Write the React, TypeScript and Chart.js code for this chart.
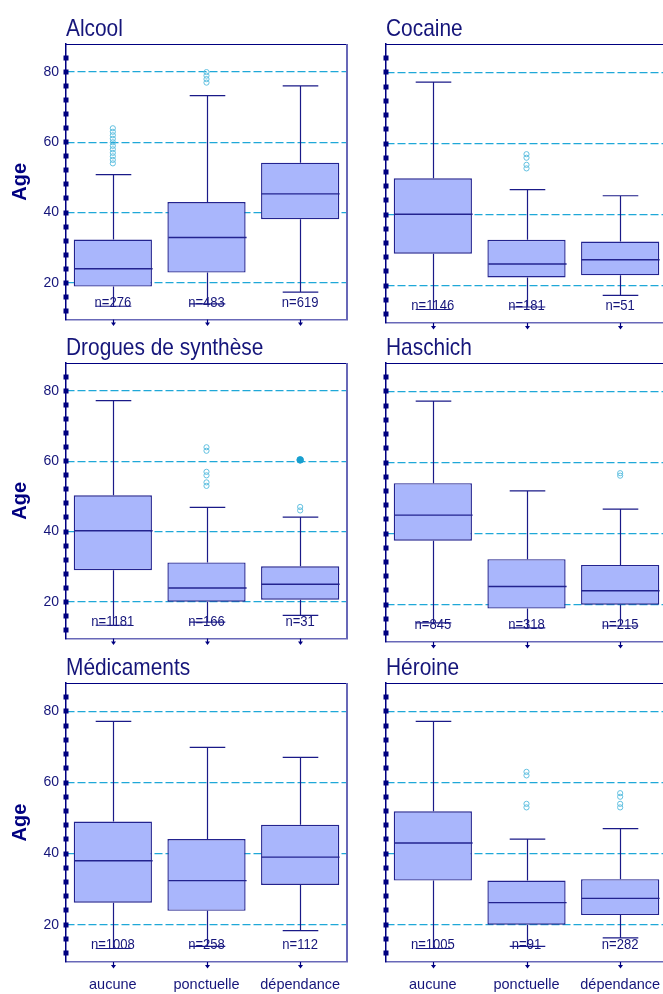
import React, { useEffect, useRef } from 'react';
import { Chart, registerables } from 'chart.js';

Chart.register(...registerables);

// ---------- data ----------
const CATEGORIES = ['aucune', 'ponctuelle', 'dépendance'];
const PANEL_TITLES = ['Alcool', 'Cocaine', 'Drogues de synthèse', 'Haschich', 'Médicaments', 'Héroine'];
const Y_AXIS_TITLE = 'Age';
const Y_MIN = 9.5;
const Y_MAX = 88;
const MARKER_TICKS = [12, 16, 20, 24, 28, 32, 36, 40, 44, 48, 52, 56, 60, 64, 68, 72, 76, 80, 84];
const LABELED_TICKS = [20, 40, 60, 80];

const WHISKER_LOW = [
  [13.3, 14.0, 17.3],
  [13.3, 14.0, 17.3],
  [13.3, 14.2, 16.1],
  [14.9, 13.5, 14.0],
  [13.3, 13.9, 18.3],
  [13.3, 13.9, 16.3],
];
const Q1 = [
  [18.9, 22.9, 38.1],
  [29.0, 22.3, 22.9],
  [29.0, 20.0, 20.6],
  [38.0, 18.9, 20.0],
  [26.2, 23.9, 31.2],
  [32.4, 20.0, 22.7],
];
const MEDIAN = [
  [24.0, 32.9, 45.3],
  [40.1, 26.1, 27.3],
  [40.2, 23.9, 25.0],
  [45.2, 25.1, 23.9],
  [38.0, 32.4, 39.0],
  [43.0, 26.2, 27.4],
];
const Q3 = [
  [32.3, 43.0, 54.2],
  [50.2, 32.9, 32.4],
  [50.3, 31.2, 30.1],
  [54.2, 32.8, 31.2],
  [49.0, 44.1, 48.1],
  [51.9, 32.4, 32.8],
];
const WHISKER_HIGH = [
  [50.8, 73.3, 76.1],
  [77.3, 47.0, 45.3],
  [77.3, 46.9, 44.1],
  [77.3, 52.0, 46.9],
  [77.2, 69.9, 67.1],
  [77.2, 44.1, 47.0],
];
const N_COUNTS = [
  [276, 483, 619],
  [1146, 181, 51],
  [1181, 166, 31],
  [845, 318, 215],
  [1008, 258, 112],
  [1005, 91, 282],
];
const OUTLIERS = [
  [[54, 55, 56, 57, 58, 59, 60, 61, 62, 63, 64], [77, 78, 79, 80], []],
  [[], [53, 54, 56, 57], []],
  [[], [53, 54, 56, 57, 63, 64], [46, 47]],
  [[], [], [56.3, 57]],
  [[], [], []],
  [[], [53, 54, 62, 63], [53, 54, 56, 57]],
];
const EXTREMES = [
  [[], [], []],
  [[], [], []],
  [[], [], [60.4]],
  [[], [], []],
  [[], [], []],
  [[], [], []],
];

// ---------- style ----------
const FONT = '"Liberation Sans", Arial, sans-serif';
const NAVY = '#000080';
const TEXT = '#15157a';
const FRAME = '#6868b8';
const GRID = '#1fa8d8';
const BOX_FILL = '#a9b6fc';
const BOX_LINE = '#23238f';
const WHISKER = '#1a1a88';
const OUTLIER = '#62c0e0';
const EXTREME = '#189fcf';

const COL_LEFT = [0, 320];
const ROW_TOP = [0, 319, 639];
const ROW_H = [335, 335, 355];
const CANVAS_W = 360;
const AREA_TOP = 44;
const AREA_BOTTOM = 323;
const Y_AXIS_W = 66;

function drawScaledText(ctx: CanvasRenderingContext2D, text: string, x: number, y: number, sx: number) {
  ctx.save();
  ctx.translate(x, y);
  ctx.scale(sx, 1);
  ctx.fillText(text, 0, 0);
  ctx.restore();
}

function Panel({ index }: { index: number }) {
  const ref = useRef<HTMLCanvasElement | null>(null);
  const col = index % 2;
  const row = Math.floor(index / 2);
  const H = ROW_H[row];
  const showY = col === 0;
  const showX = row === 2;

  useEffect(() => {
    if (!ref.current) return;
    const p = index;

    const decor = {
      id: 'boxDecor',
      beforeDatasetsDraw(chart: any) {
        const { ctx, chartArea: a, scales } = chart;
        const x = scales.x;
        ctx.save();
        ctx.fillStyle = TEXT;
        ctx.font = `15px ${FONT}`;
        ctx.textAlign = 'center';
        ctx.textBaseline = 'alphabetic';
        CATEGORIES.forEach((_, i) => {
          drawScaledText(ctx, 'n=' + N_COUNTS[p][i], x.getPixelForValue(i), a.bottom - 13, 0.87);
        });
        ctx.restore();
      },
      afterDatasetsDraw(chart: any) {
        const { ctx, scales } = chart;
        const x = scales.x;
        const y = scales.y;
        const meta = chart.getDatasetMeta(0);
        const catW = x.getPixelForValue(1) - x.getPixelForValue(0);
        const capHalf = catW * 0.19;
        ctx.save();
        CATEGORIES.forEach((_, i) => {
          const bar = meta.data[i];
          const cx = Math.round(bar.x) + 0.5;
          const half = bar.width / 2;
          const yHi = y.getPixelForValue(WHISKER_HIGH[p][i]);
          const yLo = y.getPixelForValue(WHISKER_LOW[p][i]);
          const yQ1 = y.getPixelForValue(Q1[p][i]);
          const yQ3 = y.getPixelForValue(Q3[p][i]);
          const yMed = y.getPixelForValue(MEDIAN[p][i]);
          ctx.strokeStyle = WHISKER;
          ctx.lineWidth = 1.2;
          ctx.beginPath();
          ctx.moveTo(cx, yQ3);
          ctx.lineTo(cx, yHi);
          ctx.moveTo(cx - capHalf, yHi);
          ctx.lineTo(cx + capHalf, yHi);
          ctx.moveTo(cx, yQ1);
          ctx.lineTo(cx, yLo);
          ctx.moveTo(cx - capHalf, yLo);
          ctx.lineTo(cx + capHalf, yLo);
          ctx.stroke();
          ctx.strokeStyle = BOX_LINE;
          ctx.lineWidth = 1.4;
          ctx.beginPath();
          ctx.moveTo(cx - half, yMed);
          ctx.lineTo(cx + half, yMed);
          ctx.stroke();
        });
        ctx.restore();
      },
      afterDraw(chart: any) {
        const { ctx, chartArea: a, scales } = chart;
        const x = scales.x;
        const y = scales.y;
        ctx.save();
        // top + right frame
        ctx.strokeStyle = NAVY;
        ctx.lineWidth = 1.2;
        ctx.beginPath();
        ctx.moveTo(a.left, a.top + 0.5);
        ctx.lineTo(a.right + 1, a.top + 0.5);
        ctx.stroke();
        ctx.strokeStyle = FRAME;
        ctx.lineWidth = 2;
        ctx.beginPath();
        ctx.moveTo(a.right, a.top);
        ctx.lineTo(a.right, a.bottom);
        ctx.stroke();
        // square markers on the left axis
        ctx.fillStyle = NAVY;
        y.ticks.forEach((t: any) => {
          const py = y.getPixelForValue(t.value);
          ctx.fillRect(a.left - 2.5, Math.round(py) - 2.5, 5, 5);
        });
        // arrows below categories
        ctx.fillStyle = NAVY;
        ctx.strokeStyle = NAVY;
        ctx.lineWidth = 1.2;
        CATEGORIES.forEach((_, i) => {
          const cx = Math.round(x.getPixelForValue(i)) + 0.5;
          const b = a.bottom;
          ctx.beginPath();
          ctx.moveTo(cx, b);
          ctx.lineTo(cx, b + 5);
          ctx.stroke();
          ctx.beginPath();
          ctx.moveTo(cx - 2.5, b + 3);
          ctx.lineTo(cx + 2.5, b + 3);
          ctx.lineTo(cx, b + 6.5);
          ctx.closePath();
          ctx.fill();
        });
        // panel title
        ctx.fillStyle = TEXT;
        ctx.font = `24px ${FONT}`;
        ctx.textAlign = 'left';
        ctx.textBaseline = 'alphabetic';
        drawScaledText(ctx, PANEL_TITLES[p], a.left, a.top - 8, 0.87);
        ctx.restore();
      },
    };

    const outlierPts: any[] = [];
    const extremePts: any[] = [];
    CATEGORIES.forEach((c, i) => {
      OUTLIERS[p][i].forEach((v) => outlierPts.push({ x: c, y: v }));
      EXTREMES[p][i].forEach((v) => extremePts.push({ x: c, y: v }));
    });

    const chart = new Chart(ref.current, {
      type: 'bar',
      data: {
        labels: CATEGORIES,
        datasets: [
          {
            type: 'bar',
            data: CATEGORIES.map((_, i) => [Q1[p][i], Q3[p][i]]),
            backgroundColor: BOX_FILL,
            borderColor: BOX_LINE,
            borderWidth: 1.4,
            borderSkipped: false,
            barPercentage: 0.835,
            categoryPercentage: 1,
          } as any,
          {
            type: 'scatter',
            data: outlierPts,
            pointStyle: 'circle',
            pointRadius: 2.6,
            borderWidth: 1,
            borderColor: OUTLIER,
            backgroundColor: 'rgba(0,0,0,0)',
          } as any,
          {
            type: 'scatter',
            data: extremePts,
            pointStyle: 'circle',
            pointRadius: 3.3,
            borderWidth: 1,
            borderColor: EXTREME,
            backgroundColor: EXTREME,
          } as any,
        ],
      },
      options: {
        responsive: false,
        animation: false,
        devicePixelRatio: 1,
        layout: { padding: { top: AREA_TOP, right: CANVAS_W - 347, left: 0, bottom: 0 } },
        plugins: {
          legend: { display: false },
          tooltip: { enabled: false },
          title: { display: false },
        },
        scales: {
          x: {
            type: 'category',
            offset: true,
            grid: { display: true, drawOnChartArea: false, drawTicks: false, offset: false },
            border: { display: true, color: FRAME, width: 1.6 },
            ticks: {
              display: showX,
              color: TEXT,
              font: { family: FONT, size: 14.5 },
              padding: 14,
              maxRotation: 0,
              autoSkip: false,
            },
            afterFit: (s: any) => {
              s.height = H - AREA_BOTTOM;
            },
          },
          y: {
            type: 'linear',
            min: Y_MIN,
            max: Y_MAX,
            afterBuildTicks: (s: any) => {
              s.ticks = MARKER_TICKS.map((v) => ({ value: v }));
            },
            grid: {
              color: (c: any) => (c.tick && LABELED_TICKS.includes(c.tick.value) ? GRID : 'rgba(0,0,0,0)'),
              lineWidth: 1.2,
              drawTicks: false,
              borderDash: [8, 3],
            } as any,
            border: { display: true, color: NAVY, width: 1.5, dash: [8, 3] },
            ticks: {
              display: showY,
              color: TEXT,
              font: { family: FONT, size: 14 },
              padding: 7,
              autoSkip: false,
              callback: (v: any) => (LABELED_TICKS.includes(Number(v)) ? String(v) : ''),
            },
            title: {
              display: showY,
              text: Y_AXIS_TITLE,
              color: NAVY,
              font: { family: FONT, size: 20, weight: 'bold' },
              padding: { top: 8, bottom: 0 },
            },
            afterFit: (s: any) => {
              s.width = Y_AXIS_W;
            },
          },
        },
      } as any,
      plugins: [decor],
    });
    return () => chart.destroy();
  }, [index]);

  return (
    <canvas
      ref={ref}
      width={CANVAS_W}
      height={H}
      style={{ position: 'absolute', left: COL_LEFT[col], top: ROW_TOP[row], width: CANVAS_W, height: H }}
    />
  );
}

export default function App() {
  return (
    <div
      style={{
        position: 'fixed',
        left: 0,
        top: 0,
        width: 663,
        height: 994,
        overflow: 'hidden',
        background: '#ffffff',
      }}
    >
      {PANEL_TITLES.map((_, i) => (
        <Panel key={i} index={i} />
      ))}
    </div>
  );
}
